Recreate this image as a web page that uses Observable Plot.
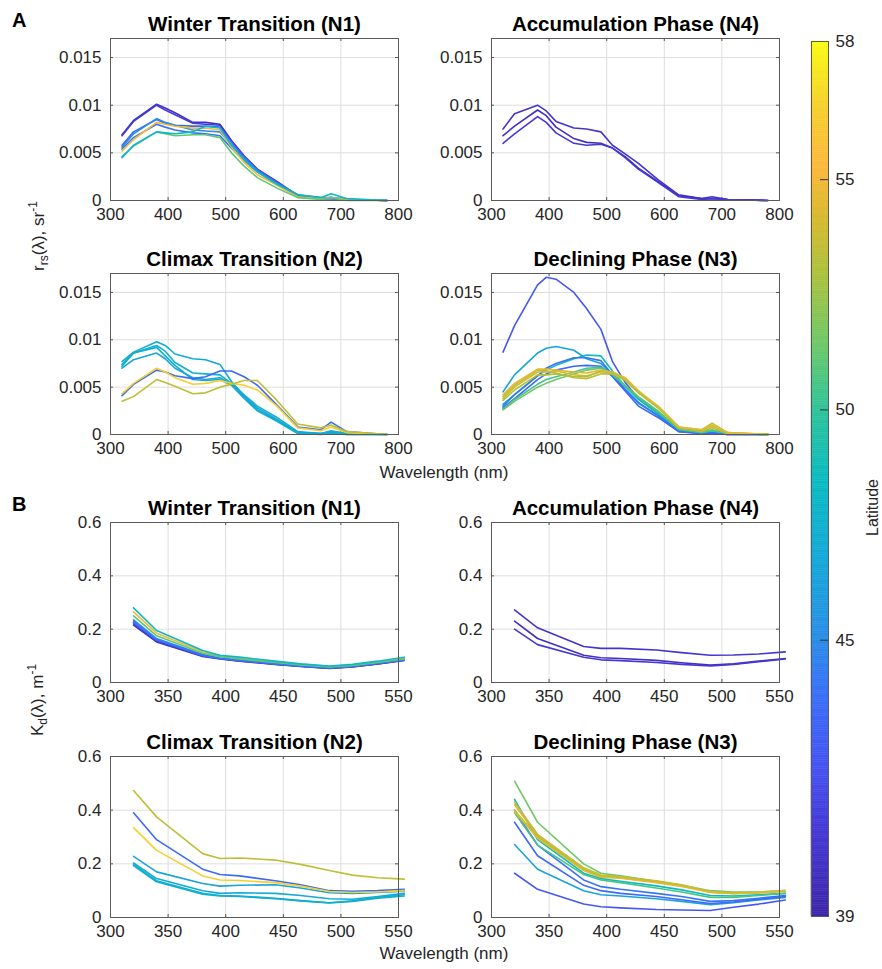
<!DOCTYPE html>
<html>
<head>
<meta charset="utf-8">
<script src="https://cdn.jsdelivr.net/npm/d3@7"></script>
<script src="https://cdn.jsdelivr.net/npm/@observablehq/plot@0.6"></script>
<style>
  body { margin: 0; background: white; }
  #chart { position: relative; width: 882px; height: 969px; font-family: "Liberation Sans", Arial, Helvetica, sans-serif; color: #262626; }
  #chart svg { position: absolute; background: transparent; overflow: visible; }
  .lbl { position: absolute; white-space: nowrap; font-size: 17px; color: #262626; }
  .rot { transform: translate(-50%, -50%) rotate(-90deg); }
  .letter { position: absolute; font-weight: bold; font-size: 20px; color: black; }
  sub, sup { font-size: 12px; line-height: 0; }
</style>
</head>
<body>
<div id="chart"></div>
<script>
// ---------------- DATA ----------------
const rrsWavelength = [320, 340, 380, 395, 412, 443, 465, 490, 510, 532, 555, 589, 625, 665, 683, 710, 780];
const kdWavelength = [320, 340, 380, 395, 412, 443, 465, 490, 510, 532, 555];

const rrsXTicks = [300, 400, 500, 600, 700, 800];
const rrsYTicks = [0, 0.005, 0.01, 0.015];
const kdXTicks = [300, 350, 400, 450, 500, 550];
const kdYTicks = [0, 0.2, 0.4, 0.6];
const latitudeTicks = [39, 45, 50, 55, 58];

// Winter Transition (N1)
const n1Latitude = [40, 41, 43.5, 45, 44, 55, 51, 48];
const n1Rrs = [
  [0.0069,0.0084,0.0101,0.0097,0.0092,0.0082,0.0082,0.0080,0.0063,0.0047,0.0033,0.0020,0.0005,0.0002,0.0003,0.0001,0],
  [0.0068,0.0083,0.0100,0.0095,0.0090,0.0081,0.0080,0.0079,0.0062,0.0045,0.0032,0.0018,0.0004,0.0002,0.0002,0.0001,0],
  [0.0058,0.0072,0.0085,0.0081,0.0079,0.0078,0.0078,0.0077,0.0061,0.0046,0.0032,0.0019,0.0006,0.0003,0.0003,0.0001,0],
  [0.0056,0.0070,0.0086,0.0082,0.0079,0.0074,0.0073,0.0072,0.0058,0.0044,0.0031,0.0018,0.0005,0.0002,0.0003,0.0001,0],
  [0.0054,0.0066,0.0080,0.0077,0.0074,0.0071,0.0070,0.0068,0.0055,0.0042,0.0030,0.0017,0.0004,0.0002,0.0002,0.0001,0],
  [0.0052,0.0064,0.0082,0.0080,0.0078,0.0076,0.0076,0.0074,0.0056,0.0040,0.0027,0.0016,0.0004,0.0002,0.0003,0.0001,0],
  [0.0046,0.0057,0.0072,0.0070,0.0068,0.0069,0.0069,0.0066,0.0050,0.0036,0.0024,0.0013,0.0003,0.0001,0.0003,0,0],
  [0.0045,0.0058,0.0072,0.0071,0.0070,0.0072,0.0078,0.0076,0.0058,0.0043,0.0030,0.0017,0.0006,0.0003,0.0007,0.0002,0]
];
const n1Kd = [
  [0.215,0.152,0.098,0.088,0.080,0.068,0.060,0.053,0.058,0.070,0.083],
  [0.220,0.155,0.100,0.090,0.081,0.069,0.061,0.054,0.059,0.070,0.084],
  [0.225,0.160,0.100,0.090,0.082,0.070,0.061,0.055,0.060,0.071,0.085],
  [0.235,0.165,0.105,0.092,0.085,0.072,0.063,0.056,0.062,0.073,0.087],
  [0.230,0.160,0.103,0.090,0.083,0.070,0.062,0.055,0.060,0.072,0.085],
  [0.265,0.185,0.115,0.100,0.090,0.078,0.068,0.060,0.065,0.077,0.090],
  [0.250,0.175,0.110,0.097,0.088,0.075,0.066,0.058,0.064,0.075,0.088],
  [0.280,0.195,0.120,0.102,0.095,0.080,0.070,0.062,0.068,0.080,0.095]
];

// Accumulation Phase (N4)
const n4Latitude = [40.5, 40, 40.8];
const n4Rrs = [
  [0.0075,0.0091,0.0100,0.0094,0.0083,0.0076,0.0075,0.0072,0.0058,0.0049,0.0039,0.0022,0.0006,0.0002,0.0004,0.0001,0],
  [0.0068,0.0078,0.0095,0.0089,0.0077,0.0065,0.0061,0.0060,0.0055,0.0046,0.0034,0.0020,0.0005,0.0002,0.0002,0.0001,0],
  [0.0060,0.0070,0.0088,0.0082,0.0071,0.0060,0.0058,0.0059,0.0055,0.0045,0.0033,0.0019,0.0004,0.0001,0.0002,0.0001,0]
];
const n4Kd = [
  [0.272,0.205,0.135,0.128,0.128,0.122,0.112,0.102,0.103,0.107,0.115],
  [0.230,0.165,0.102,0.093,0.090,0.083,0.074,0.065,0.070,0.080,0.090],
  [0.200,0.142,0.095,0.085,0.082,0.075,0.068,0.062,0.068,0.078,0.088]
];

// Climax Transition (N2)
const n2Latitude = [47, 47.5, 46.5, 47.2, 43.5, 56.5, 53.5];
const n2Rrs = [
  [0.0077,0.0087,0.0098,0.0094,0.0085,0.0080,0.0079,0.0074,0.0056,0.0041,0.0028,0.0016,0.0002,0.0001,0.0003,0.0001,0],
  [0.0072,0.0086,0.0094,0.0088,0.0076,0.0065,0.0064,0.0063,0.0054,0.0042,0.0030,0.0018,0.0003,0.0001,0.0004,0.0001,0],
  [0.0070,0.0079,0.0086,0.0080,0.0070,0.0060,0.0058,0.0060,0.0053,0.0040,0.0026,0.0015,0.0002,0.0001,0.0002,0,0],
  [0.0074,0.0086,0.0092,0.0083,0.0073,0.0058,0.0057,0.0058,0.0052,0.0038,0.0025,0.0014,0.0001,0,0.0001,0,0],
  [0.0041,0.0053,0.0068,0.0066,0.0062,0.0059,0.0061,0.0067,0.0067,0.0061,0.0052,0.0031,0.0008,0.0005,0.0013,0.0003,0],
  [0.0043,0.0054,0.0070,0.0066,0.0060,0.0053,0.0054,0.0057,0.0054,0.0052,0.0047,0.0030,0.0007,0.0004,0.0008,0.0002,0],
  [0.0035,0.0040,0.0058,0.0055,0.0051,0.0043,0.0044,0.0050,0.0053,0.0057,0.0057,0.0036,0.0011,0.0007,0.0010,0.0003,0]
];
const n2Kd = [
  [0.203,0.145,0.100,0.090,0.092,0.090,0.082,0.070,0.068,0.078,0.090],
  [0.197,0.137,0.090,0.082,0.080,0.072,0.063,0.055,0.062,0.075,0.085],
  [0.228,0.170,0.127,0.117,0.120,0.122,0.110,0.092,0.090,0.093,0.098],
  [0.193,0.133,0.087,0.080,0.078,0.070,0.062,0.054,0.060,0.072,0.080],
  [0.390,0.290,0.180,0.160,0.155,0.137,0.122,0.100,0.098,0.100,0.105],
  [0.335,0.250,0.155,0.140,0.138,0.130,0.117,0.097,0.093,0.095,0.100],
  [0.473,0.375,0.238,0.220,0.222,0.214,0.198,0.175,0.158,0.148,0.143]
];

// Declining Phase (N3)
const n3Latitude = [42.5, 46.5, 48.5, 44, 43.5, 51.5, 50.5, 53.5, 54, 53, 54.5];
const n3Rrs = [
  [0.0087,0.0115,0.0158,0.0166,0.0164,0.0150,0.0133,0.0111,0.0077,0.0055,0.0038,0.0022,0.0004,0.0001,0.0001,0.0001,0],
  [0.0045,0.0063,0.0086,0.0091,0.0093,0.0089,0.0080,0.0075,0.0063,0.0047,0.0033,0.0020,0.0003,0.0001,0.0002,0,0],
  [0.0032,0.0042,0.0062,0.0068,0.0073,0.0080,0.0084,0.0083,0.0067,0.0051,0.0037,0.0022,0.0005,0.0002,0.0004,0.0001,0],
  [0.0030,0.0042,0.0062,0.0070,0.0075,0.0081,0.0081,0.0078,0.0063,0.0048,0.0034,0.0020,0.0004,0.0001,0.0002,0,0],
  [0.0028,0.0038,0.0058,0.0064,0.0068,0.0072,0.0073,0.0072,0.0061,0.0046,0.0030,0.0018,0.0003,0.0001,0.0001,0,0],
  [0.0026,0.0035,0.0050,0.0054,0.0058,0.0064,0.0068,0.0070,0.0064,0.0052,0.0040,0.0025,0.0006,0.0003,0.0005,0.0001,0],
  [0.0027,0.0037,0.0053,0.0058,0.0061,0.0066,0.0070,0.0071,0.0063,0.0051,0.0039,0.0024,0.0005,0.0002,0.0004,0.0001,0],
  [0.0040,0.0052,0.0068,0.0067,0.0065,0.0060,0.0059,0.0064,0.0064,0.0058,0.0045,0.0030,0.0008,0.0005,0.0012,0.0002,0],
  [0.0038,0.0050,0.0066,0.0066,0.0067,0.0063,0.0062,0.0066,0.0066,0.0059,0.0046,0.0029,0.0007,0.0004,0.0009,0.0002,0],
  [0.0036,0.0047,0.0063,0.0063,0.0064,0.0061,0.0061,0.0067,0.0065,0.0057,0.0044,0.0028,0.0007,0.0003,0.0007,0.0001,0],
  [0.0042,0.0054,0.0069,0.0069,0.0068,0.0066,0.0065,0.0068,0.0066,0.0060,0.0046,0.0030,0.0008,0.0005,0.0010,0.0002,0]
];
const n3Kd = [
  [0.165,0.105,0.050,0.040,0.036,0.030,0.028,0.026,0.038,0.050,0.065],
  [0.272,0.180,0.100,0.085,0.080,0.070,0.060,0.048,0.055,0.065,0.075],
  [0.440,0.290,0.165,0.145,0.135,0.118,0.103,0.082,0.080,0.085,0.090],
  [0.400,0.270,0.140,0.115,0.105,0.090,0.078,0.060,0.063,0.072,0.082],
  [0.355,0.230,0.120,0.100,0.090,0.078,0.066,0.052,0.058,0.068,0.078],
  [0.508,0.355,0.200,0.165,0.155,0.135,0.120,0.100,0.095,0.095,0.100],
  [0.390,0.270,0.160,0.140,0.130,0.110,0.095,0.075,0.075,0.082,0.090],
  [0.430,0.310,0.185,0.158,0.152,0.137,0.122,0.097,0.092,0.094,0.100],
  [0.420,0.305,0.180,0.155,0.150,0.135,0.120,0.095,0.090,0.093,0.100],
  [0.400,0.300,0.178,0.152,0.148,0.132,0.118,0.094,0.090,0.092,0.098],
  [0.395,0.295,0.175,0.150,0.146,0.130,0.116,0.093,0.089,0.092,0.099]
];

// ---------------- STYLE ----------------
const parulaPos = [0, 0.10, 0.17, 0.25, 0.32, 0.41, 0.50, 0.58, 0.65, 0.73, 0.80, 0.86, 0.93, 1];
const parulaCol = ["#3e26a8","#4539d6","#4653f1","#3a6ef8","#2a8ee6","#14a9d8","#0bbbc0","#30c399","#6bc86b","#a9c23f","#d8b92e","#fdb93b","#f5d22c","#f9fb14"];
const parulaScale = d3.scaleLinear().domain(parulaPos).range(parulaCol).interpolate(d3.interpolateRgb).clamp(true);
const parula = t => parulaScale(t);
const colorScale = {type: "linear", domain: [39, 58], interpolate: parula};
const FONT = '"Liberation Sans", Arial, Helvetica, sans-serif';
const chart = document.getElementById("chart");

const colX = [110, 491];
const rowY = [38, 273, 522, 756];
const rowH = [162, 161, 160, 161];
const PW = 288, ML = 75, MR = 6, MT = 36, MB = 30;

function toRows(wl, lat, vals) {
  return vals.flatMap((s, i) => s.map((v, j) => ({wavelength: wl[j], value: v, lat: lat[i], id: i})));
}

function panel(title, col, row, kind, lat, vals) {
  const isRrs = kind === "rrs";
  const wl = isRrs ? rrsWavelength : kdWavelength;
  const xTicks = isRrs ? rrsXTicks : kdXTicks;
  const yTicks = isRrs ? rrsYTicks : kdYTicks;
  const ph = rowH[row];
  const svg = Plot.plot({
    width: PW + ML + MR, height: ph + MT + MB,
    marginLeft: ML, marginRight: MR, marginTop: MT, marginBottom: MB,
    style: {fontFamily: FONT, fontSize: "17px", color: "#262626", background: "transparent", overflow: "visible"},
    x: {domain: [xTicks[0], xTicks[xTicks.length - 1]], label: null},
    y: {domain: isRrs ? [0, 0.017] : [0, 0.6], label: null},
    color: colorScale,
    marks: [
      Plot.gridX(xTicks, {stroke: "#dedede", strokeOpacity: 1}),
      Plot.gridY(yTicks, {stroke: "#dedede", strokeOpacity: 1}),
      Plot.tickX(xTicks, {x: d => d, insetTop: ph - 3, stroke: "#555"}),
      Plot.tickX(xTicks, {x: d => d, insetBottom: ph - 3, stroke: "#555"}),
      Plot.tickY(yTicks, {y: d => d, insetRight: PW - 3, stroke: "#555"}),
      Plot.tickY(yTicks, {y: d => d, insetLeft: PW - 3, stroke: "#555"}),
      Plot.line(toRows(wl, lat, vals), {x: "wavelength", y: "value", z: "id", stroke: "lat", strokeWidth: 1.6}),
      Plot.frame({stroke: "#5a5a5a"}),
      Plot.axisX(xTicks, {tickSize: 0, tickPadding: 7, tickFormat: d => String(d), fill: "#262626", label: null}),
      Plot.axisY(yTicks, {tickSize: 0, tickPadding: 9, tickFormat: d => String(d), fill: "#262626", label: null}),
      Plot.text([title], {frameAnchor: "top", dy: -8, lineAnchor: "bottom", fontWeight: "bold", fontSize: 20.5, fill: "black"})
    ]
  });
  svg.style.left = (colX[col] - ML) + "px";
  svg.style.top = (rowY[row] - MT) + "px";
  chart.appendChild(svg);
}

panel("Winter Transition (N1)", 0, 0, "rrs", n1Latitude, n1Rrs);
panel("Accumulation Phase (N4)", 1, 0, "rrs", n4Latitude, n4Rrs);
panel("Climax Transition (N2)", 0, 1, "rrs", n2Latitude, n2Rrs);
panel("Declining Phase (N3)", 1, 1, "rrs", n3Latitude, n3Rrs);
panel("Winter Transition (N1)", 0, 2, "kd", n1Latitude, n1Kd);
panel("Accumulation Phase (N4)", 1, 2, "kd", n4Latitude, n4Kd);
panel("Climax Transition (N2)", 0, 3, "kd", n2Latitude, n2Kd);
panel("Declining Phase (N3)", 1, 3, "kd", n3Latitude, n3Kd);

// Colorbar
const CB = {left: 811, top: 41, w: 17, h: 875};
const cbML = 11, cbMT = 11, cbMR = 60, cbMB = 14;
const cbSteps = d3.range(39, 58, 0.05);
const cb = Plot.plot({
  width: CB.w + cbML + cbMR, height: CB.h + cbMT + cbMB,
  marginLeft: cbML, marginRight: cbMR, marginTop: cbMT, marginBottom: cbMB,
  style: {fontFamily: FONT, fontSize: "17px", color: "#262626", background: "transparent", overflow: "visible"},
  x: {domain: [0, 1], axis: null},
  y: {domain: [39, 58], axis: null},
  color: colorScale,
  marks: [
    Plot.rect(cbSteps, {x1: 0, x2: 1, y1: d => d, y2: d => d + 0.05, fill: d => d + 0.025, stroke: d => d + 0.025, strokeWidth: 0.5}),
    Plot.tickY(latitudeTicks.slice(1, -1), {y: d => d, insetLeft: 9, stroke: "#333"}),
    Plot.frame({stroke: "#5a5a5a"}),
    Plot.axisY(latitudeTicks, {anchor: "right", tickSize: 0, tickPadding: 7, fill: "#262626", label: null}),
    Plot.text(["Latitude"], {frameAnchor: "right", dx: 44, rotate: -90, fontSize: 16, fill: "#262626"})
  ]
});
cb.style.left = (CB.left - cbML) + "px";
cb.style.top = (CB.top - cbMT) + "px";
chart.appendChild(cb);

// HTML labels
function addLabel(html, cls, x, y) {
  const d = document.createElement("div");
  d.className = cls;
  d.innerHTML = html;
  d.style.left = x + "px";
  d.style.top = y + "px";
  chart.appendChild(d);
}
addLabel("A", "letter", 12, 9);
addLabel("B", "letter", 12, 493);
addLabel("r<sub>rs</sub>(λ), sr<sup>-1</sup>", "lbl rot", 39, 236);
addLabel("K<sub>d</sub>(λ), m<sup>-1</sup>", "lbl rot", 38, 700);
addLabel("Wavelength (nm)", "lbl", 444, 463);
addLabel("Wavelength (nm)", "lbl", 444, 944);
document.querySelectorAll(".lbl:not(.rot)").forEach(d => d.style.transform = "translateX(-50%)");
</script>
</body>
</html>
